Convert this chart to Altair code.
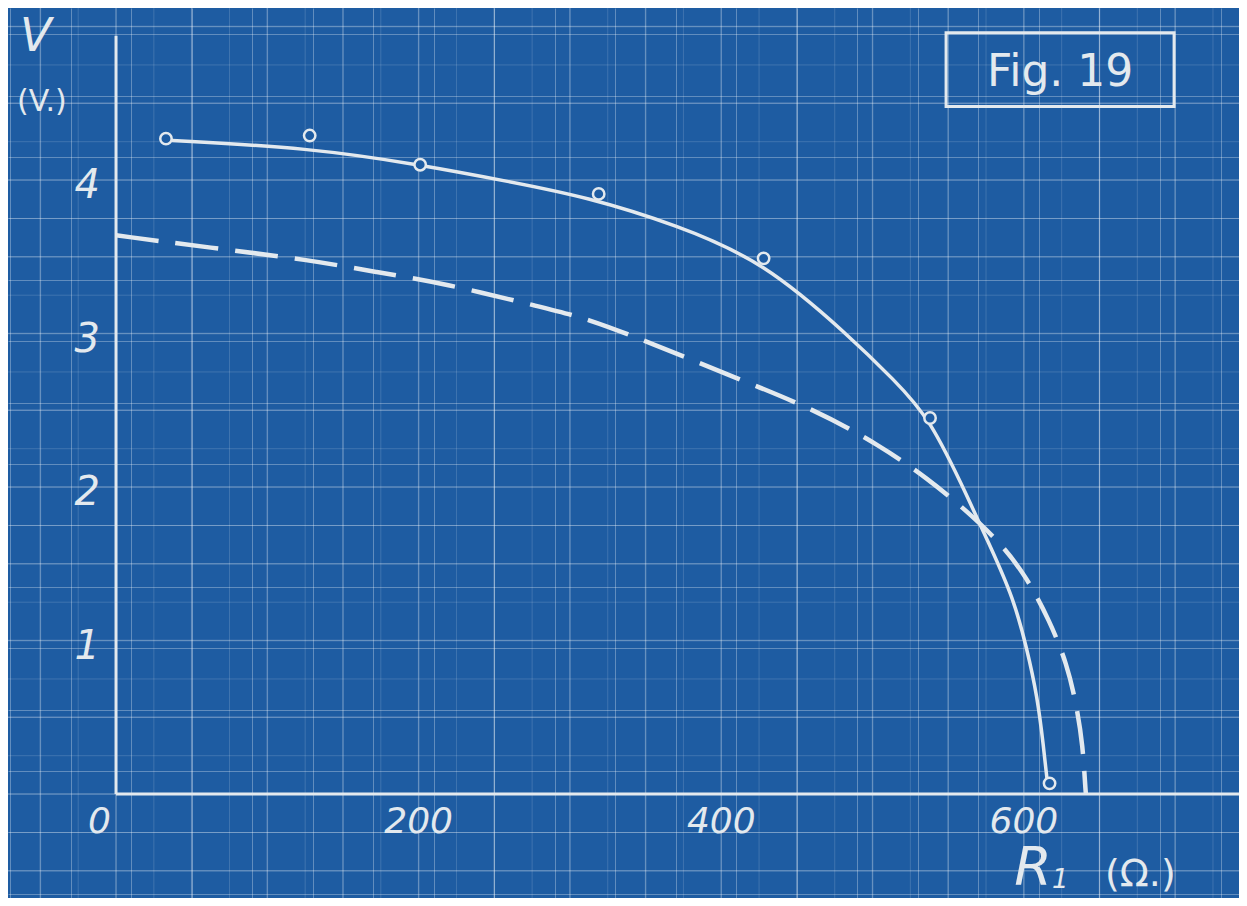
import altair as alt
import pandas as pd
import numpy as np

# ---- data ----
# measured points (circles)
pt_r = [33, 128, 201, 319, 428, 538, 617]
pt_v = [4.27, 4.29, 4.10, 3.91, 3.49, 2.45, 0.07]

# solid fitted curve
solid_r = [34, 128, 201, 260, 311, 370, 428, 485, 514, 538, 564, 578, 593, 602, 609, 613, 615.5]
solid_v = [4.26, 4.21, 4.10, 3.99, 3.89, 3.71, 3.47, 2.98, 2.70, 2.45, 1.91, 1.61, 1.28, 0.95, 0.63, 0.31, 0.08]

# dashed curve
dash_r = [0, 62, 128, 172, 216, 282, 311, 353, 410, 463, 505, 536, 564, 586, 602, 617, 628.5, 635, 639, 640.5, 641]
dash_v = [3.64, 3.56, 3.48, 3.40, 3.33, 3.17, 3.10, 2.94, 2.71, 2.50, 2.27, 2.06, 1.83, 1.62, 1.41, 1.13, 0.85, 0.57, 0.31, 0.06, 0.0]

x_ticks = [0, 200, 400, 600]
y_ticks = [1, 2, 3, 4]

BG = "#1e5ca2"
INK = "#e3e9ee"
FONT = "DejaVu Sans"

W, H = 1231, 890
XDOM = [-71.4, 742.2]
YDOM = [-0.677, 5.121]

xs = alt.Scale(domain=XDOM, nice=False, zero=False)
ys = alt.Scale(domain=YDOM, nice=False, zero=False)

fine_x = [round(v, 2) for v in np.arange(-70, 745, 5)]
fine_y = [round(v, 3) for v in np.arange(-0.65, 5.15, 0.05)]
major_x = [round(v, 2) for v in np.arange(-50, 745, 50)]
major_y = [round(v, 3) for v in np.arange(-0.5, 5.15, 0.5)]
mid_x = [round(v, 2) for v in np.arange(-50, 745, 25)]
mid_y = [round(v, 3) for v in np.arange(-0.5, 5.15, 0.25)]

grid_axis_x = alt.Axis(values=fine_x, grid=True, gridColor="#ffffff", gridOpacity=0.3,
                       gridWidth=1, labels=False, ticks=False, domain=False, title=None)
grid_axis_y = alt.Axis(values=fine_y, grid=True, gridColor="#ffffff", gridOpacity=0.3,
                       gridWidth=1, labels=False, ticks=False, domain=False, title=None)

solid_df = pd.DataFrame({"r": solid_r, "v": solid_v})
dash_df = pd.DataFrame({"r": dash_r, "v": dash_v})
pt_df = pd.DataFrame({"r": pt_r, "v": pt_v})

base_grid = alt.Chart(pd.DataFrame({"r": [0], "v": [0]})).mark_point(opacity=0).encode(
    x=alt.X("r:Q", scale=xs, axis=grid_axis_x),
    y=alt.Y("v:Q", scale=ys, axis=grid_axis_y),
)

mid_vx = alt.Chart(pd.DataFrame({"g": mid_x})).mark_rule(color="#ffffff", opacity=0.15, strokeWidth=1).encode(
    x=alt.X("g:Q", scale=xs))
mid_hy = alt.Chart(pd.DataFrame({"g": mid_y})).mark_rule(color="#ffffff", opacity=0.15, strokeWidth=1).encode(
    y=alt.Y("g:Q", scale=ys))
maj_vx = alt.Chart(pd.DataFrame({"g": major_x})).mark_rule(color="#ffffff", opacity=0.22, strokeWidth=1.5).encode(
    x=alt.X("g:Q", scale=xs))
maj_hy = alt.Chart(pd.DataFrame({"g": major_y})).mark_rule(color="#ffffff", opacity=0.22, strokeWidth=1.5).encode(
    y=alt.Y("g:Q", scale=ys))

# axes lines
y_axis_line = alt.Chart(pd.DataFrame({"r": [0], "v0": [0], "v1": [4.94]})).mark_rule(
    color=INK, strokeWidth=3).encode(
    x=alt.X("r:Q", scale=xs), y=alt.Y("v0:Q", scale=ys), y2="v1:Q")
x_axis_line = alt.Chart(pd.DataFrame({"v": [0], "r0": [0], "r1": [742.2]})).mark_rule(
    color=INK, strokeWidth=3).encode(
    y=alt.Y("v:Q", scale=ys), x=alt.X("r0:Q", scale=xs), x2="r1:Q")

dashed = alt.Chart(dash_df).mark_line(color=INK, strokeWidth=4.5, strokeDash=[43, 17],
                                      interpolate="basis").encode(
    x=alt.X("r:Q", scale=xs), y=alt.Y("v:Q", scale=ys))
solid = alt.Chart(solid_df).mark_line(color=INK, strokeWidth=3.5, interpolate="basis").encode(
    x=alt.X("r:Q", scale=xs), y=alt.Y("v:Q", scale=ys))
points = alt.Chart(pt_df).mark_point(shape="circle", size=130, filled=False, fill=BG, fillOpacity=1,
                                     stroke=INK, strokeWidth=2.5, opacity=1).encode(
    x=alt.X("r:Q", scale=xs), y=alt.Y("v:Q", scale=ys))

# tick labels
xlab = alt.Chart(pd.DataFrame({"t": x_ticks})).transform_calculate(
    pos="datum.t == 0 ? -11 : datum.t", lab="'' + datum.t").mark_text(
    font=FONT, fontSize=36, fontStyle="italic", color=INK, baseline="middle", align="center").encode(
    x=alt.X("pos:Q", scale=xs), y=alt.datum(-0.18), text="lab:N")
ylab = alt.Chart(pd.DataFrame({"t": y_ticks})).transform_calculate(
    pos="datum.t - 0.04", lab="'' + datum.t").mark_text(
    font=FONT, fontSize=40, fontStyle="italic", color=INK, baseline="middle", align="center").encode(
    x=alt.datum(-19), y=alt.Y("pos:Q", scale=ys), text="lab:N")

# titles
def txt(s, x, y, size, italic=True):
    return alt.Chart(pd.DataFrame({"s": [s]})).mark_text(
        font=FONT, fontSize=size, fontStyle="italic" if italic else "normal", color=INK,
        baseline="middle", align="center").encode(
        x=alt.datum(x), y=alt.datum(y), text="s:N")

v_title = txt("V", -53, 4.93, 46)
v_unit = txt("(V.)", -49, 4.51, 30, italic=False)
r_title = txt("R", 606, -0.49, 54)
r_sub = txt("1", 624, -0.56, 26)
r_unit = txt("(Ω.)", 677, -0.53, 38, italic=False)

# Fig. 19 box
box = alt.Chart(pd.DataFrame({"x0": [548.6], "x1": [699.3], "y0": [4.48], "y1": [4.96]})).mark_rect(
    fill=BG, fillOpacity=0, stroke=INK, strokeWidth=3).encode(
    x=alt.X("x0:Q", scale=xs), x2="x1:Q", y=alt.Y("y0:Q", scale=ys), y2="y1:Q")
fig_lab = alt.Chart(pd.DataFrame({"s": ["Fig. 19"]})).mark_text(
    font=FONT, fontSize=44, color=INK, baseline="middle", align="center").encode(
    x=alt.datum(624), y=alt.datum(4.70), text="s:N")

chart = alt.layer(
    base_grid, mid_vx, mid_hy, maj_vx, maj_hy,
    y_axis_line, x_axis_line, dashed, solid, points,
    xlab, ylab, v_title, v_unit, r_title, r_sub, r_unit, box, fig_lab
).properties(
    width=W, height=H, background=BG, padding=0,
    autosize=alt.AutoSizeParams(type="none")
).configure_view(stroke=None)

chart.save("out.html", embed_options={"renderer": "svg", "actions": False})
